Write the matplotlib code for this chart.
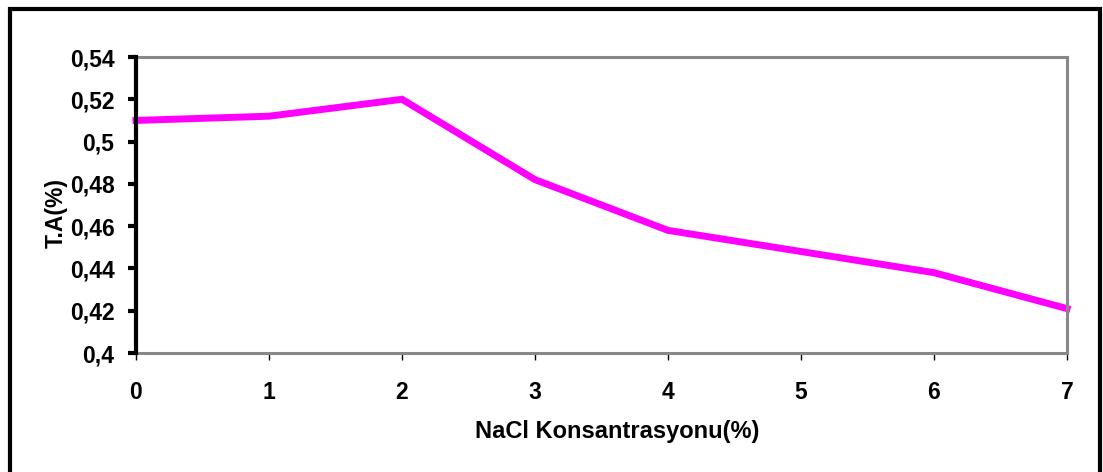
import matplotlib.pyplot as plt
from matplotlib.patches import Rectangle

# NaCl concentration (%) vs titratable acidity T.A (%)
nacl = [0, 1, 2, 3, 4, 5, 6, 7]
ta = [0.510, 0.512, 0.520, 0.482, 0.458, 0.448, 0.438, 0.421]
yticks = [0.40, 0.42, 0.44, 0.46, 0.48, 0.50, 0.52, 0.54]
ytick_labels = ["0,4", "0,42", "0,44", "0,46", "0,48", "0,5", "0,52", "0,54"]

plt.rcParams['font.family'] = ['Liberation Sans', 'DejaVu Sans']
plt.rcParams['font.weight'] = 'bold'

fig = plt.figure(figsize=(11.03, 4.72), dpi=100)

# chart frame (open at the bottom edge)
fig.patches.append(Rectangle((9.5 / 1103, -0.05), (1099.5 - 9.5) / 1103, 1.05 - 9.5 / 472,
                             transform=fig.transFigure, fill=False,
                             edgecolor='black', linewidth=3, zorder=0))

ax = fig.add_axes([136 / 1103, 1 - 353 / 472, (1067 - 136) / 1103, (353 - 57) / 472])
ax.plot(nacl, ta, color='#FF00FF', linewidth=5, solid_joinstyle='miter', clip_on=False)

ax.set_xlim(0, 7)
ax.set_ylim(0.40, 0.54)
ax.set_xticks(nacl)
ax.set_yticks(yticks)
ax.set_yticklabels(ytick_labels)

for side in ['top', 'right', 'bottom']:
    ax.spines[side].set_color('#888888')
    ax.spines[side].set_linewidth(2.2)
ax.spines['left'].set_color('black')
ax.spines['left'].set_linewidth(3)
ax.spines['left'].set_zorder(5)

ax.tick_params(axis='y', direction='out', length=6, width=3, color='black',
               labelsize=16.5, pad=9.5)
ax.tick_params(axis='x', direction='out', length=5, width=1, color='black',
               labelsize=16.5, pad=15)

ax.set_xlabel('NaCl Konsantrasyonu(%)', fontsize=17, fontweight='bold')
ax.set_ylabel('T.A(%)', fontsize=16.5, fontweight='bold')
ax.xaxis.set_label_coords(0.517, -0.228)
ax.yaxis.set_label_coords(-0.073, 0.473)

fig.savefig('out.png', dpi=100)
